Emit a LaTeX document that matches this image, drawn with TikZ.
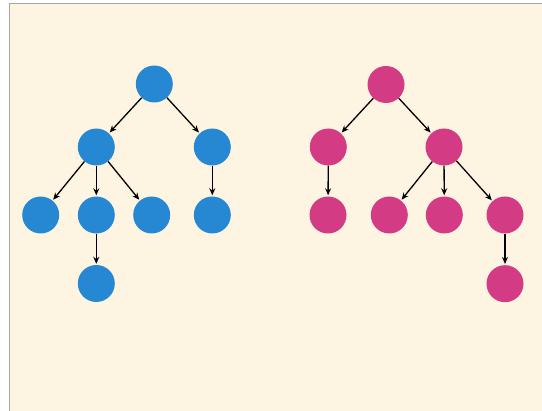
\documentclass[tikz,border=0pt]{standalone}
\usetikzlibrary{arrows.meta}
\definecolor{bgcream}{HTML}{FDF5E2}
\definecolor{tblue}{HTML}{2688D2}
\definecolor{tpink}{HTML}{D43B85}
\begin{document}
\begin{tikzpicture}[x=1pt,y=-1pt,
  bnode/.style={circle,fill=tblue,minimum size=37pt,inner sep=0pt},
  pnode/.style={circle,fill=tpink,minimum size=37pt,inner sep=0pt},
  edge/.style={-{Stealth[length=7pt,width=6pt]},line width=1.3pt,black,shorten >=1pt}]
\useasboundingbox (0,0) rectangle (542,411);
\fill[white] (0,0) rectangle (542,411);
\filldraw[fill=bgcream,draw=black!35,line width=0.8pt] (9,3) rectangle (548,420);
% blue tree
\node[bnode] (b0) at (154.3,84) {};
\node[bnode] (b1) at (96.3,147) {};
\node[bnode] (b2) at (212.3,147) {};
\node[bnode] (b3) at (40.7,215) {};
\node[bnode] (b4) at (96.3,215) {};
\node[bnode] (b5) at (151.7,215) {};
\node[bnode] (b6) at (212.3,215) {};
\node[bnode] (b7) at (96.3,283.5) {};
\draw[edge] (b0) -- (b1);
\draw[edge] (b0) -- (b2);
\draw[edge] (b1) -- (b3);
\draw[edge] (b1) -- (b4);
\draw[edge] (b1) -- (b5);
\draw[edge] (b2) -- (b6);
\draw[edge] (b4) -- (b7);
% pink tree
\node[pnode] (p0) at (386,84.5) {};
\node[pnode] (p1) at (328.3,147) {};
\node[pnode] (p2) at (444,147) {};
\node[pnode] (p3) at (328,215) {};
\node[pnode] (p4) at (389.3,215) {};
\node[pnode] (p5) at (444.3,215) {};
\node[pnode] (p6) at (505,215) {};
\node[pnode] (p7) at (505,283.7) {};
\draw[edge] (p0) -- (p1);
\draw[edge] (p0) -- (p2);
\draw[edge] (p1) -- (p3);
\draw[edge] (p2) -- (p4);
\draw[edge] (p2) -- (p5);
\draw[edge] (p2) -- (p6);
\draw[edge] (p6) -- (p7);
\end{tikzpicture}
\end{document}
